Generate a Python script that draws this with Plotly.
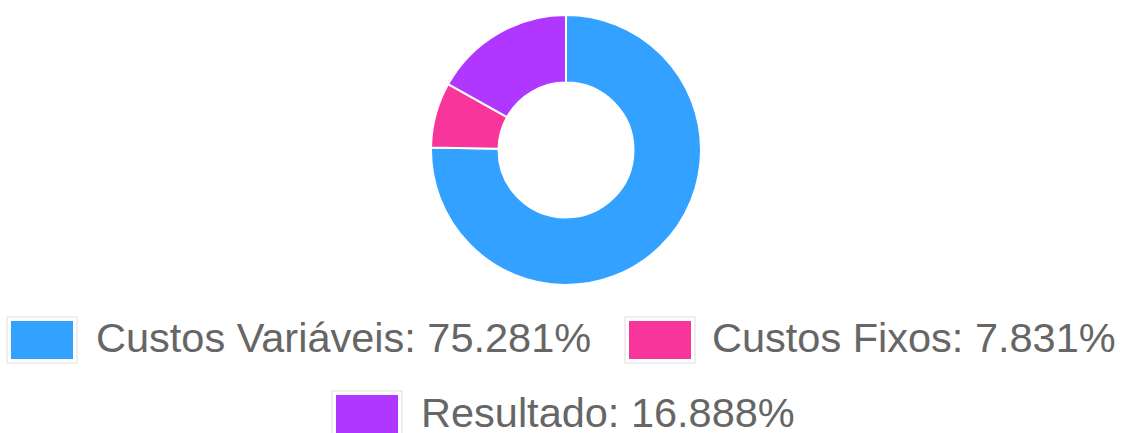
import plotly.graph_objects as go

labels = ["Custos Variáveis", "Custos Fixos", "Resultado"]
values = [75.281, 7.831, 16.888]
colors = ["#33a1ff", "#f7359b", "#b037ff"]

W, H = 1124, 433

def px(x):
    return x / W

def py(y):
    return 1 - y / H

cx, cy, r = 566, 150, 135

fig = go.Figure(go.Pie(
    labels=labels,
    values=values,
    hole=0.5,
    sort=False,
    direction="clockwise",
    rotation=0,
    textinfo="none",
    marker=dict(colors=colors, line=dict(color="#ffffff", width=2)),
    domain=dict(x=[px(cx - r), px(cx + r)], y=[py(cy + r), py(cy - r)]),
    showlegend=False,
    hoverinfo="label+percent",
))

# custom legend: (box left x, text left x, box center y, text center y)
legend_pos = [(7, 95, 340, 337), (625, 711, 340, 337), (332, 420, 414, 412)]
shapes = []
annotations = []
for (bx, tx, by, ty), lab, val, col in zip(legend_pos, labels, values, colors):
    shapes.append(dict(type="rect", xref="paper", yref="paper",
                       x0=px(bx), x1=px(bx + 70), y0=py(by + 23), y1=py(by - 23),
                       line=dict(color="#dddddd", width=1), fillcolor="#ffffff"))
    shapes.append(dict(type="rect", xref="paper", yref="paper",
                       x0=px(bx + 4), x1=px(bx + 66), y0=py(by + 19), y1=py(by - 19),
                       line=dict(width=0), fillcolor=col))
    annotations.append(dict(xref="paper", yref="paper", x=px(tx), y=py(ty),
                            xanchor="left", yanchor="middle", showarrow=False,
                            borderpad=0,
                            text=f"{lab}: {val:.3f}%",
                            font=dict(family="Liberation Sans, Arial, sans-serif", size=41.5, color="#666666")))

fig.update_layout(
    width=W, height=H,
    margin=dict(l=0, r=0, t=0, b=0),
    paper_bgcolor="#ffffff",
    plot_bgcolor="#ffffff",
    shapes=shapes,
    annotations=annotations,
)

fig.write_html("out.html", config={"displayModeBar": False})
